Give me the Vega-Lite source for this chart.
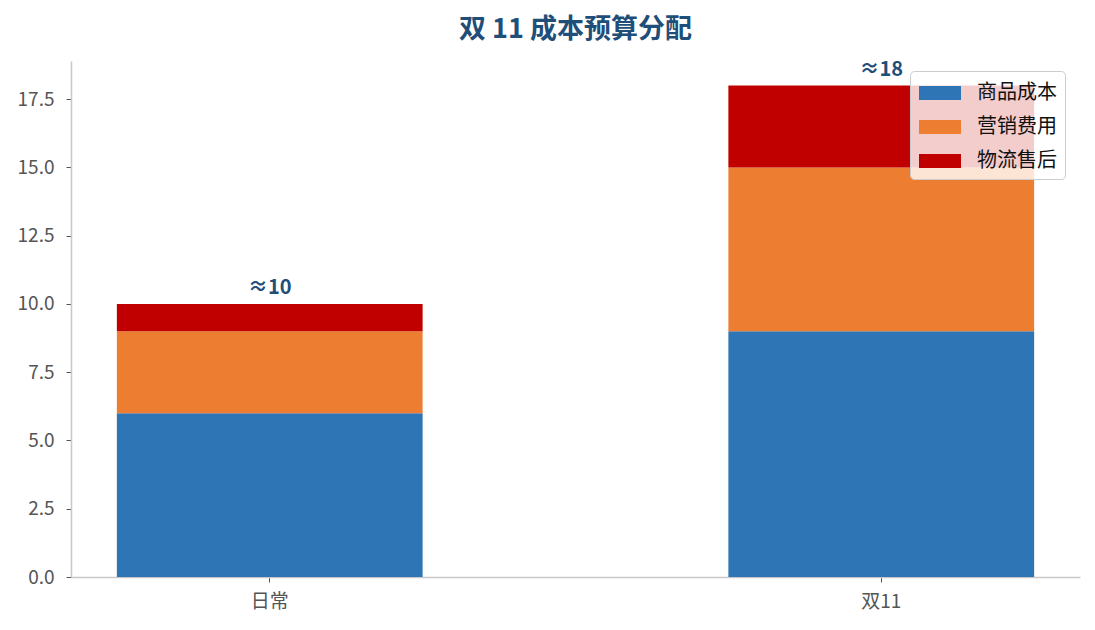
{
  "$schema": "https://vega.github.io/schema/vega-lite/v6.json",
  "autosize": "none",
  "width": 1009,
  "height": 516,
  "padding": {"left": 71, "top": 61, "right": 15, "bottom": 53},
  "background": "white",
  "config": {
    "font": "Noto Sans CJK SC",
    "view": {"stroke": null},
    "axis": {
      "labelFont": "Noto Sans CJK SC",
      "labelFontSize": 19,
      "labelColor": "#555555",
      "domainColor": "#c8c8c8",
      "domainWidth": 1.5,
      "tickColor": "#555555",
      "tickSize": 5,
      "grid": false,
      "title": null
    }
  },
  "title": {
    "text": "双 11 成本预算分配",
    "fontSize": 27,
    "fontWeight": "bold",
    "color": "#1f4e79",
    "anchor": "middle",
    "offset": 16
  },
  "datasets": {
    "costs": [
      {"scene": "日常", "item": "商品成本", "rank": 1, "value": 6},
      {"scene": "日常", "item": "营销费用", "rank": 2, "value": 3},
      {"scene": "日常", "item": "物流售后", "rank": 3, "value": 1},
      {"scene": "双11", "item": "商品成本", "rank": 1, "value": 9},
      {"scene": "双11", "item": "营销费用", "rank": 2, "value": 6},
      {"scene": "双11", "item": "物流售后", "rank": 3, "value": 3}
    ],
    "totals": [
      {"scene": "日常", "total": 10, "label": "≈10"},
      {"scene": "双11", "total": 18, "label": "≈18"}
    ]
  },
  "encoding": {
    "x": {
      "field": "scene",
      "type": "nominal",
      "sort": ["日常", "双11"],
      "scale": {"paddingInner": 0.5, "paddingOuter": 0.075},
      "axis": {"labelAngle": 0, "labelPadding": 10}
    }
  },
  "layer": [
    {
      "data": {"name": "costs"},
      "mark": {"type": "bar"},
      "encoding": {
        "y": {
          "field": "value",
          "type": "quantitative",
          "stack": "zero",
          "scale": {"domain": [0, 18.9], "nice": false},
          "axis": {
            "values": [0, 2.5, 5, 7.5, 10, 12.5, 15, 17.5],
            "format": ".1f",
            "labelPadding": 12
          }
        },
        "order": {"field": "rank", "type": "quantitative"},
        "color": {
          "field": "item",
          "type": "nominal",
          "scale": {
            "domain": ["商品成本", "营销费用", "物流售后"],
            "range": ["#2e75b6", "#ed7d31", "#c00000"]
          },
          "legend": {
            "title": null,
            "orient": "none",
            "legendX": 839,
            "legendY": 10,
            "fillColor": "rgba(255,255,255,0.8)",
            "strokeColor": "#cccccc",
            "cornerRadius": 4,
            "padding": 8,
            "symbolType": "M-1.5,-0.5H1.5V0.5H-1.5Z",
            "symbolSize": 784,
            "symbolOffset": 8,
            "symbolStrokeWidth": 0,
            "symbolOpacity": 1,
            "labelFont": "Noto Sans CJK SC",
            "labelFontSize": 20,
            "labelColor": "#111111",
            "labelOffset": 23,
            "rowPadding": 10
          }
        }
      }
    },
    {
      "data": {"name": "totals"},
      "mark": {
        "type": "text",
        "baseline": "bottom",
        "dy": -6,
        "fontSize": 20,
        "fontWeight": "bold",
        "color": "#1f4e79"
      },
      "encoding": {
        "y": {"field": "total", "type": "quantitative"},
        "text": {"field": "label", "type": "nominal"}
      }
    }
  ]
}
